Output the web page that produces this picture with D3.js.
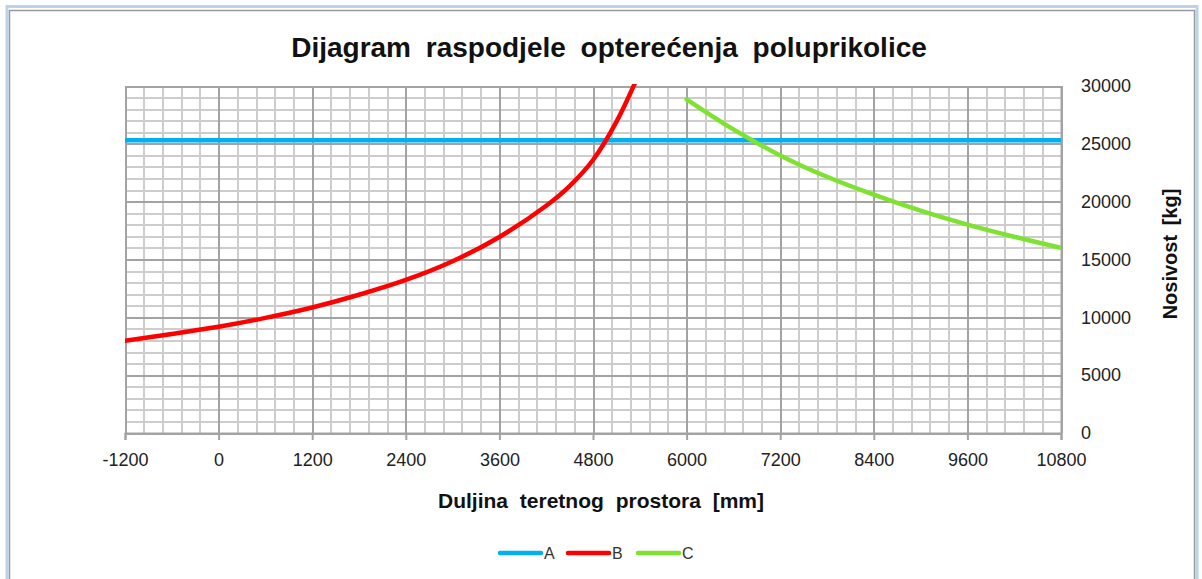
<!DOCTYPE html>
<meta charset="utf-8">
<html>
<head>
<title>Dijagram raspodjele</title>
<style>
body { margin: 0; background: #fff; }
svg { display: block; font-family: "Liberation Sans", Arial, sans-serif; }
.grid line { shape-rendering: crispEdges; }
.grid path { display: none; }
.axis text { fill: #222; font-size: 18px; }
</style>
</head>
<body>
<svg width="1202" height="579"></svg>
<script src="https://d3js.org/d3.v7.min.js"></script>
<script>

// data
var seriesNames = ["A", "B", "C"];
var seriesColors = ["#00b0f0", "#ff0000", "#7fe233"];

var xA = [-1200, 10800];
var yA = [25300, 25300];

var xB = [-1200, -600, 0, 600, 1200, 1800, 2400, 3000, 3600, 4200, 4500, 4800, 5100, 5400];
var yB = [7970, 8560, 9180, 9950, 10850, 11950, 13230, 14850, 16950, 19650, 21350, 23600, 26900, 31200];

var xC = [6000, 6600, 7200, 7800, 8400, 9000, 9600, 10200, 10800];
var yC = [28850, 26250, 24000, 22150, 20600, 19220, 18020, 16970, 16000];

var xTicks = [-1200, 0, 1200, 2400, 3600, 4800, 6000, 7200, 8400, 9600, 10800];
var yTicks = [0, 5000, 10000, 15000, 20000, 25000, 30000];

var svg = d3.select("svg");

// chart frame
svg.append("rect").attr("x", 7).attr("y", 6.5).attr("width", 1190).attr("height", 620)
    .attr("fill", "none").attr("stroke", "#b8d3ea").attr("stroke-width", 3);
svg.append("rect").attr("x", 9.5).attr("y", 10.5).attr("width", 1185).attr("height", 620)
    .attr("fill", "#fff").attr("stroke", "#9a9a9a").attr("stroke-width", 1.5);

var pLeft = 125, pTop = 86, pRight = 1061, pBottom = 433;

var x = d3.scaleLinear().domain([-1200, 10800]).range([pLeft, pRight]);
var y = d3.scaleLinear().domain([0, 30000]).range([pBottom, pTop]);

var minorX = d3.range(-1200, 10801, 240);
var minorY = d3.range(0, 30001, 1000);

function grid(g, color) {
  g.selectAll("line").attr("stroke", color).attr("stroke-width", 2);
}

// minor grid
svg.append("g").attr("class", "grid")
    .attr("transform", "translate(0," + pBottom + ")")
    .call(d3.axisBottom(x).tickValues(minorX).tickSize(-(pBottom - pTop)).tickFormat(""))
    .call(grid, "#cdcdcd");
svg.append("g").attr("class", "grid")
    .attr("transform", "translate(" + pLeft + ",0)")
    .call(d3.axisLeft(y).tickValues(minorY).tickSize(-(pRight - pLeft)).tickFormat(""))
    .call(grid, "#cdcdcd");

// major grid
svg.append("g").attr("class", "grid")
    .attr("transform", "translate(0," + pBottom + ")")
    .call(d3.axisBottom(x).tickValues(xTicks).tickSize(-(pBottom - pTop)).tickFormat(""))
    .call(grid, "#a3a3a3");
svg.append("g").attr("class", "grid")
    .attr("transform", "translate(" + pLeft + ",0)")
    .call(d3.axisLeft(y).tickValues(yTicks).tickSize(-(pRight - pLeft)).tickFormat(""))
    .call(grid, "#a3a3a3");

// x axis
var gx = svg.append("g").attr("class", "axis")
    .attr("transform", "translate(0," + pBottom + ")")
    .call(d3.axisBottom(x).tickValues(xTicks).tickSize(7).tickPadding(13).tickFormat(function(d) { return String(d); }));
gx.select(".domain").attr("stroke", "#a3a3a3").attr("stroke-width", 2);
gx.selectAll(".tick line").attr("stroke", "#a3a3a3").attr("stroke-width", 2);
gx.selectAll("text").attr("font-family", "Liberation Sans, Arial, sans-serif");

// y axis (right)
var gy = svg.append("g").attr("class", "axis")
    .attr("transform", "translate(" + pRight + ",0)")
    .call(d3.axisRight(y).tickValues(yTicks).tickSize(0).tickPadding(20).tickFormat(function(d) { return String(d); }));
gy.select(".domain").attr("stroke", "#a3a3a3").attr("stroke-width", 2);
gy.selectAll("text").attr("font-family", "Liberation Sans, Arial, sans-serif");

// clip
svg.append("clipPath").attr("id", "plot")
  .append("rect").attr("x", pLeft).attr("y", pTop - 2).attr("width", pRight - pLeft).attr("height", pBottom - pTop + 2);

var line = d3.line()
    .x(function(d) { return x(d[0]); })
    .y(function(d) { return y(d[1]); })
    .curve(d3.curveCatmullRom.alpha(0.5));

var series = [d3.zip(xA, yA), d3.zip(xB, yB), d3.zip(xC, yC)];

svg.append("g").attr("clip-path", "url(#plot)")
  .selectAll("path")
  .data(series)
  .enter().append("path")
    .attr("fill", "none")
    .attr("stroke", function(d, i) { return seriesColors[i]; })
    .attr("stroke-width", 4.5)
    .attr("stroke-linecap", "round")
    .attr("d", line);

// titles
svg.append("text")
    .attr("x", 609).attr("y", 57)
    .attr("text-anchor", "middle")
    .attr("font-size", 28).attr("font-weight", "bold")
    .attr("word-spacing", 7)
    .attr("fill", "#111")
    .text("Dijagram raspodjele opterećenja poluprikolice");

svg.append("text")
    .attr("x", 601).attr("y", 508)
    .attr("text-anchor", "middle")
    .attr("font-size", 21).attr("font-weight", "bold")
    .attr("word-spacing", 6)
    .attr("fill", "#111")
    .text("Duljina teretnog prostora [mm]");

svg.append("text")
    .attr("transform", "translate(1177,254) rotate(-90)")
    .attr("text-anchor", "middle")
    .attr("font-size", 20).attr("font-weight", "bold")
    .attr("word-spacing", 4)
    .attr("fill", "#111")
    .text("Nosivost [kg]");

// legend
var legendX = [499, 567, 637];
var legend = svg.append("g")
  .selectAll("g")
  .data(seriesNames)
  .enter().append("g")
    .attr("transform", function(d, i) { return "translate(" + legendX[i] + ",553)"; });

legend.append("line")
    .attr("x1", 1).attr("x2", 42)
    .attr("stroke", function(d, i) { return seriesColors[i]; })
    .attr("stroke-width", 4.5)
    .attr("stroke-linecap", "round");

legend.append("text")
    .attr("x", 45).attr("y", 6)
    .attr("font-size", 16)
    .attr("fill", "#333")
    .text(function(d) { return d; });

</script>
</body>
</html>
